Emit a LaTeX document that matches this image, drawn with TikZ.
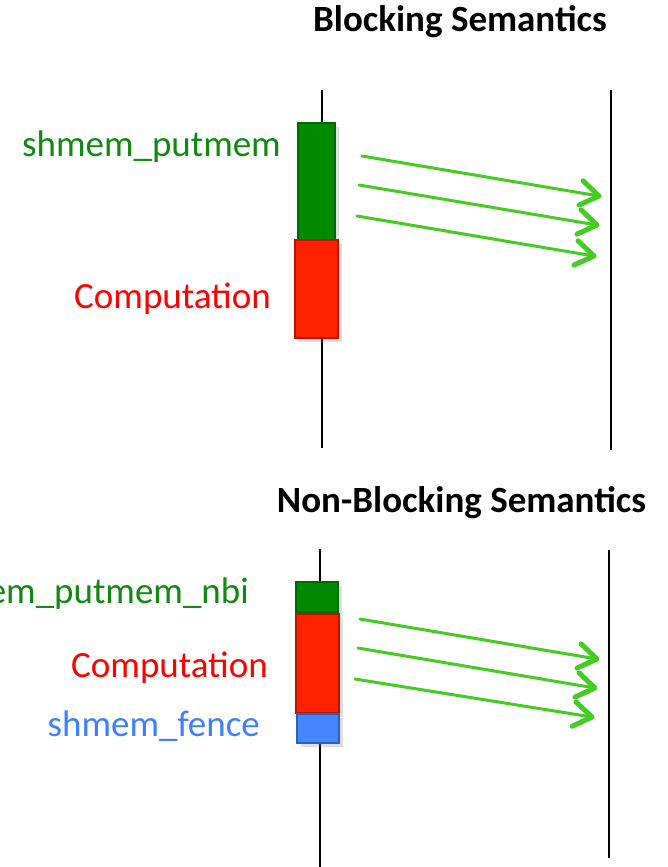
\documentclass[tikz,border=0pt]{standalone}
\usepackage{fontspec}
\setmainfont{Carlito}
\usetikzlibrary{calc,shadows}

\begin{document}
\begin{tikzpicture}[x=1pt,y=-1pt,
  opbox/.style={draw,line width=1.2pt,inner sep=0pt,drop shadow={opacity=0.25,shadow xshift=4pt,shadow yshift=-4pt}},
  opname/.style={anchor=base east,inner sep=0pt,font=\fontsize{37}{44}\selectfont},
  heading/.style={anchor=base,inner sep=0pt,font=\fontsize{37}{44}\selectfont\bfseries},
  timeline/.style={line width=2.5pt},
  msg/.style={draw=msggreen,line width=3pt,line cap=round},
  msgtip/.style={draw=msggreen,line width=5pt,line cap=round,line join=round}]
\definecolor{putgreen}{HTML}{008A00}
\definecolor{putedge}{HTML}{006600}
\definecolor{compred}{HTML}{FF2200}
\definecolor{compedge}{HTML}{BB1500}
\definecolor{fenceblue}{HTML}{4585FF}
\definecolor{fenceedge}{HTML}{2F5FBB}
\definecolor{msggreen}{HTML}{44CC22}
\definecolor{labgreen}{HTML}{118811}
\definecolor{labred}{HTML}{FF0000}
\definecolor{labblue}{HTML}{3F7FFF}
\useasboundingbox (0,0) rectangle (667,867);

% blocking
\node[heading] (btitle) at (460,32) {Blocking Semantics};
\coordinate (bsrctop) at (322,90);
\coordinate (bsrcbot) at (322,448);
\coordinate (bdsttop) at (611,90);
\coordinate (bdstbot) at (611,450);
\draw[timeline] (bsrctop) -- (bsrcbot);
\draw[timeline] (bdsttop) -- (bdstbot);
\node[opbox,fill=putgreen,draw=putedge,minimum width=37,minimum height=117] (bput) at (316.5,181.5) {};
\node[opbox,fill=compred,draw=compedge,minimum width=43,minimum height=98] (bcomp) at (316.5,289) {};
\node[opname,text=labgreen] (bputlab) at (281,156) {shmem\_putmem};
\node[opname,text=labred] (bcomplab) at (271,308) {Computation};
\foreach \n/\xa/\ya/\xb/\yb in {1/362/156/599/196,2/359/185/597/225,3/357/216/594/256}
{  \coordinate (bs\n) at (\xa,\ya);
   \coordinate (bd\n) at (\xb,\yb);
   \draw[msg] (bs\n) -- (bd\n);
   \draw[msgtip] ($(bd\n)!22pt!34:(bs\n)$) -- (bd\n) -- ($(bd\n)!22pt!-34:(bs\n)$);}

% non-blocking
\node[heading] (ntitle) at (461.5,512) {Non-Blocking Semantics};
\coordinate (nsrctop) at (320,549);
\coordinate (nsrcbot) at (320,867);
\coordinate (ndsttop) at (609,550);
\coordinate (ndstbot) at (609,858);
\draw[timeline] (nsrctop) -- (nsrcbot);
\draw[timeline] (ndsttop) -- (ndstbot);
\node[opbox,fill=putgreen,draw=putedge,minimum width=42,minimum height=30] (nput) at (317,597) {};
\node[opbox,fill=compred,draw=compedge,minimum width=43,minimum height=99] (ncomp) at (317.5,663.5) {};
\node[opbox,fill=fenceblue,draw=fenceedge,minimum width=42,minimum height=29] (nfence) at (318,728.5) {};
\node[opname,text=labgreen] (nputlab) at (249,603) {shmem\_putmem\_nbi};
\node[opname,text=labred] (ncomplab) at (268,677) {Computation};
\node[opname,text=labblue] (nfencelab) at (260,736) {shmem\_fence};
\foreach \n/\xa/\ya/\xb/\yb in {1/360/619/597/659,2/358/648/595/688,3/355/679/592/717}
{  \coordinate (ns\n) at (\xa,\ya);
   \coordinate (nd\n) at (\xb,\yb);
   \draw[msg] (ns\n) -- (nd\n);
   \draw[msgtip] ($(nd\n)!22pt!34:(ns\n)$) -- (nd\n) -- ($(nd\n)!22pt!-34:(ns\n)$);}
\end{tikzpicture}
\end{document}
